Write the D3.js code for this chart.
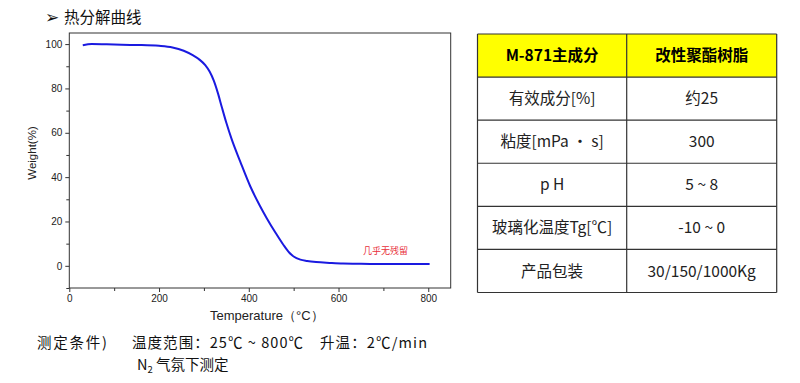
<!DOCTYPE html>
<html><head><meta charset="utf-8">
<script src="https://cdn.jsdelivr.net/npm/d3@7"></script>
<style>
body{margin:0;background:#fff;}
svg{display:block;}
</style></head>
<body>
<svg id="c" width="800" height="383"></svg>
<script>
// ---- data ----
const temps   = [30, 50, 100, 150, 200, 230, 255, 275, 290, 303, 313, 322, 331, 340, 350, 362, 381, 403, 425, 440, 460, 477, 490, 500, 515, 530, 550, 580, 610, 650, 700, 750, 803];
const weights = [99.5, 100, 99.8, 99.6, 99.2, 98.5, 97, 95, 93, 90.5, 87.5, 83.5, 78, 71.5, 64.5, 57, 47, 36, 27, 21.5, 14.8, 9.5, 6, 4.2, 2.8, 2.2, 1.7, 1.3, 1.0, 0.9, 0.85, 0.85, 0.85];
const xTicks = [0, 200, 400, 600, 800];
const xMinor = [100, 300, 500, 700];
const yTicks = [0, 20, 40, 60, 80, 100];
const yMinor = [-10, 10, 30, 50, 70, 90];
const tableHead = ["M-871主成分", "改性聚酯树脂"];
const tableKeys = ["有效成分[%]", "粘度[mPa · s]", "p H", "玻璃化温度Tg[℃]", "产品包装"];
const tableVals = ["约25", "300", "5 ~ 8", "-10 ~ 0", "30/150/1000Kg"];

const svg = d3.select("#c");
const CJK = "'Noto Sans CJK SC','Noto Sans',sans-serif";
const LAT = "'Liberation Sans',Arial,sans-serif";

// title
svg.append("text").attr("x", 45).attr("y", 23).attr("font-family", "'DejaVu Sans',sans-serif").attr("font-size", 17).attr("fill", "#111").text("➢");
svg.append("text").attr("x", 64).attr("y", 23).attr("font-family", CJK).attr("font-size", 15.5).attr("fill", "#111").text("热分解曲线");

// plot
const L = 69.3, R = 450.7, T = 33, B = 288;
const x = d3.scaleLinear().domain([0, 850]).range([L, R]);
const y = d3.scaleLinear().domain([-10, 105]).range([B, T]);

svg.append("rect").attr("x", L).attr("y", T).attr("width", R - L).attr("height", B - T)
  .attr("fill", "none").attr("stroke", "#333").attr("stroke-width", 1);

const gx = svg.append("g").attr("transform", `translate(0,${B})`)
  .call(d3.axisBottom(x).tickValues(xTicks).tickSize(4).tickPadding(3).tickFormat(d3.format("d")));
const gxm = svg.append("g").attr("transform", `translate(0,${B})`)
  .call(d3.axisBottom(x).tickValues(xMinor).tickSize(3).tickFormat(""));
const gy = svg.append("g").attr("transform", `translate(${L},0)`)
  .call(d3.axisLeft(y).tickValues(yTicks).tickSize(4).tickPadding(3).tickFormat(d3.format("d")));
const gym = svg.append("g").attr("transform", `translate(${L},0)`)
  .call(d3.axisLeft(y).tickValues(yMinor).tickSize(3).tickFormat(""));
[gx, gxm, gy, gym].forEach(g => {
  g.select(".domain").remove();
  g.selectAll(".tick line").attr("stroke", "#333");
  g.selectAll(".tick text").attr("font-family", LAT).attr("font-size", 10).attr("fill", "#222");
});

svg.append("text").attr("transform", `translate(36,153) rotate(-90)`).attr("text-anchor", "middle")
  .attr("font-family", LAT).attr("font-size", 11.5).attr("fill", "#222").text("Weight(%)");
svg.append("text").attr("x", 210).attr("y", 320)
  .attr("font-family", LAT).attr("font-size", 13).attr("fill", "#222")
  .text("Temperature（°C）");

const pts = temps.map((t, i) => [t, weights[i]]);
svg.append("path").datum(pts)
  .attr("d", d3.line().x(d => x(d[0])).y(d => y(d[1])).curve(d3.curveMonotoneX))
  .attr("fill", "none").attr("stroke", "#1a1ae0").attr("stroke-width", 2);

svg.append("text").attr("x", 363).attr("y", 254).attr("font-family", CJK).attr("font-size", 9)
  .attr("fill", "#e8303a").text("几乎无残留");

// bottom notes
const NS = 14.5;
const note = (tx, xx, yy, len) => svg.append("text").attr("x", xx).attr("y", yy).attr("font-family", CJK)
  .attr("font-size", NS).attr("fill", "#111").attr("textLength", len).attr("lengthAdjust", "spacing").text(tx);
note("测定条件)", 37, 347.5, 70);
note("温度范围：25℃ ~ 800℃", 132, 347.5, 171);
note("升温：2℃/min", 320, 347.5, 107);
const n2 = svg.append("text").attr("x", 137).attr("y", 369.5).attr("font-family", CJK).attr("font-size", NS).attr("fill", "#111");
n2.append("tspan").text("N");
n2.append("tspan").attr("font-size", 9.5).attr("dy", 3).text("2");
n2.append("tspan").attr("dy", -3).text(" 气氛下测定");

// table
const tx0 = 477.5, tx1 = 626.7, tx2 = 776.7;
const rowY = d3.scaleLinear().domain([0, 6]).range([34, 292.5]);
const tg = svg.append("g");
tg.append("rect").attr("x", tx0).attr("y", rowY(0)).attr("width", tx2 - tx0).attr("height", rowY(1) - rowY(0)).attr("fill", "#ffff00");
const rows = [tableHead].concat(tableKeys.map((k, i) => [k, tableVals[i]]));
rows.forEach((r, i) => {
  const cy = (rowY(i) + rowY(i + 1)) / 2;
  [[r[0], (tx0 + tx1) / 2], [r[1], (tx1 + tx2) / 2]].forEach(([txt, cx]) => {
    tg.append("text").attr("x", cx).attr("y", cy).attr("dy", "0.36em").attr("text-anchor", "middle")
      .attr("font-family", CJK).attr("font-size", 15.5).attr("font-weight", i === 0 ? "bold" : "normal")
      .attr("fill", i === 0 ? "#000" : "#222").text(txt);
  });
});
d3.range(7).forEach(i => {
  tg.append("line").attr("x1", tx0).attr("x2", tx2).attr("y1", rowY(i)).attr("y2", rowY(i)).attr("stroke", "#333").attr("stroke-width", 1.2);
});
[tx0, tx1, tx2].forEach(xx => {
  tg.append("line").attr("x1", xx).attr("x2", xx).attr("y1", rowY(0)).attr("y2", rowY(6)).attr("stroke", "#333").attr("stroke-width", 1.2);
});
</script>
</body></html>
